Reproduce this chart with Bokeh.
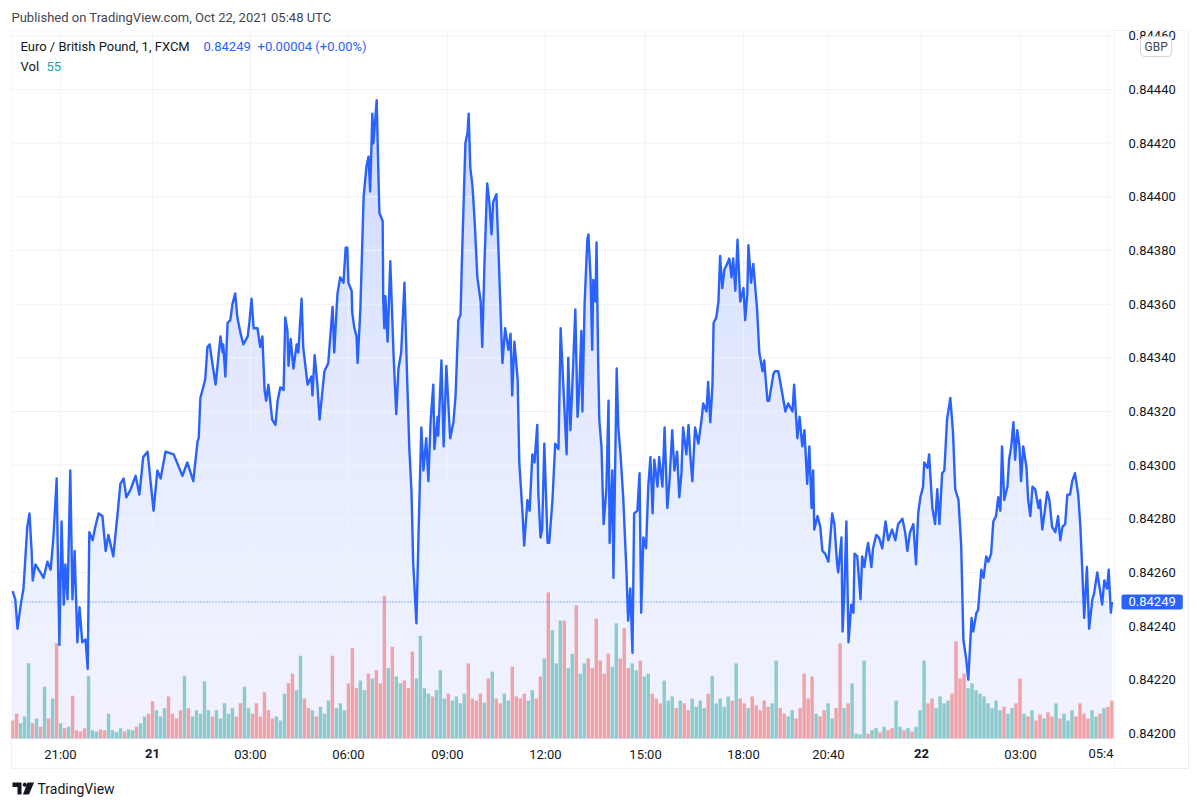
import numpy as np
from bokeh.plotting import figure
from bokeh.models import (Range1d, FixedTicker, PrintfTickFormatter, Label, LinearAxis,
                          BoxAnnotation, PolyAnnotation)
from bokeh.embed import file_html
from bokeh.resources import INLINE

# ---------------- data ----------------
# minute-bar index (0 = first bar shown) and close price
bar = [2,7,11,17,22,29,33,37,39,44,
       53,59,66,72,77,83,85,88,92,96,
       99,103,108,112,116,121,125,130,136,140,
       143,149,154,160,167,173,178,187,195,200,
       206,211,219,228,235,242,250,261,268,274,
       283,298,314,323,334,342,344,347,351,356,
       360,364,369,375,378,384,388,389,393,397,
       402,406,411,415,421,426,434,437,441,445,
       452,457,461,465,468,472,479,485,489,494,
       500,503,507,509,513,518,524,527,533,536,
       544,551,553,557,562,566,571,575,582,590,
       593,599,604,610,614,617,619,625,626,630,
       634,636,641,647,652,656,659,663,665,671,
       674,676,682,683,685,687,691,696,702,707,
       711,716,722,727,731,735,738,744,748,753,
       757,762,766,770,775,777,783,784,790,794,
       799,806,812,816,821,825,828,834,838,840,
       843,847,851,856,862,865,869,874,878,882,
       885,891,895,898,902,907,913,917,920,924,
       930,933,939,942,948,952,957,961,966,968,
       972,975,979,985,988,994,999,1005,1009,1012,
       1020,1023,1027,1031,1036,1040,1043,1047,1049,1053,
       1058,1060,1064,1067,1069,1073,1075,1078,1080,1084,
       1088,1093,1097,1099,1104,1106,1112,1115,1119,1124,
       1130,1133,1137,1141,1144,1150,1154,1157,1161,1166,
       1170,1174,1178,1181,1187,1190,1196,1200,1205,1209,
       1214,1218,1223,1227,1231,1234,1240,1244,1247,1251,
       1256,1262,1268,1271,1277,1280,1284,1288,1290,1295,
       1299,1302,1306,1310,1315,1319,1323,1326,1330,1334,
       1339,1345,1348,1352,1354,1359,1363,1370,1374,1380,
       1383,1389,1392,1400,1403,1409,1416,1422,1427,1435,
       1438,1444,1448,1453,1457,1462,1466,1470,1473,1475,
       1481,1486,1490,1495,1501,1508,1512,1517,1519,1525,
       1527,1530,1534,1538,1543,1547,1549,1554,1560,1563,
       1567,1572,1574,1580,1583,1589,1594,1600,1606,1611,
       1618,1624,1629,1637,1642,1646,1651,1657,1662,1666,
       1670,1675,1677,1683,1686,1692,1697,1701,1705,1710,
       1714,1719,1725,1730,1734,1740,1745,1749,1754,1758,
       1764,1767,1773,1776,1782,1786,1791,1795,1800,1804,
       1809,1813,1817,1820,1824,1830,1833,1837,1841,1844,
       1848,1852,1855,1859,1865,1868,1872,1876,1881,1887,
       1890,1894,1898,1903,1907,1912,1918,1923,1927,1931,
       1936,1940,1945,1949,1954,1960,1964,1967,1971,1976,
       1980,1986,1989,1995,1998,2004,2008,2013,2016,2020,2022]

close = [0.84253,0.84250,0.84239,0.84248,0.84254,0.84277,0.84282,0.84268,0.84257,0.84263,
         0.84260,0.84258,0.84264,0.84261,0.84273,0.84295,0.84269,0.84233,0.84279,0.84248,
         0.84263,0.84250,0.84298,0.84250,0.84268,0.84234,0.84247,0.84234,0.84235,0.84224,
         0.84275,0.84272,0.84277,0.84282,0.84281,0.84268,0.84274,0.84266,0.84282,0.84293,
         0.84295,0.84288,0.84291,0.84296,0.84289,0.84303,0.84305,0.84283,0.84298,0.84295,
         0.84305,0.84304,0.84296,0.84301,0.84294,0.84309,0.84310,0.84325,0.84328,0.84332,
         0.84344,0.84345,0.84338,0.84330,0.84336,0.84348,0.84342,0.84345,0.84333,0.84353,
         0.84354,0.84360,0.84364,0.84355,0.84349,0.84345,0.84348,0.84353,0.84362,0.84351,
         0.84351,0.84344,0.84348,0.84328,0.84324,0.84330,0.84317,0.84315,0.84324,0.84329,
         0.84328,0.84355,0.84350,0.84337,0.84347,0.84336,0.84345,0.84342,0.84362,0.84344,
         0.84330,0.84333,0.84326,0.84341,0.84330,0.84317,0.84327,0.84335,0.84338,0.84359,
         0.84342,0.84364,0.84370,0.84368,0.84381,0.84381,0.84368,0.84365,0.84357,0.84351,
         0.84348,0.84338,0.84358,0.84400,0.84411,0.84415,0.84402,0.84431,0.84420,0.84436,
         0.84410,0.84394,0.84391,0.84362,0.84351,0.84363,0.84346,0.84376,0.84341,0.84319,
         0.84336,0.84342,0.84368,0.84332,0.84306,0.84290,0.84264,0.84241,0.84275,0.84314,
         0.84298,0.84310,0.84294,0.84316,0.84330,0.84306,0.84318,0.84311,0.84339,0.84307,
         0.84337,0.84310,0.84316,0.84326,0.84354,0.84356,0.84379,0.84420,0.84424,0.84431,
         0.84411,0.84404,0.84391,0.84370,0.84361,0.84344,0.84375,0.84405,0.84398,0.84386,
         0.84398,0.84401,0.84379,0.84361,0.84338,0.84351,0.84343,0.84349,0.84326,0.84346,
         0.84332,0.84301,0.84282,0.84270,0.84287,0.84283,0.84304,0.84301,0.84315,0.84290,
         0.84273,0.84276,0.84308,0.84271,0.84271,0.84287,0.84308,0.84306,0.84351,0.84338,
         0.84304,0.84340,0.84313,0.84332,0.84358,0.84318,0.84327,0.84350,0.84320,0.84360,
         0.84384,0.84386,0.84370,0.84343,0.84369,0.84361,0.84383,0.84338,0.84317,0.84307,
         0.84278,0.84291,0.84324,0.84271,0.84298,0.84258,0.84336,0.84314,0.84304,0.84288,
         0.84260,0.84242,0.84254,0.84230,0.84282,0.84283,0.84297,0.84245,0.84273,0.84269,
         0.84292,0.84303,0.84282,0.84302,0.84292,0.84303,0.84292,0.84314,0.84284,0.84294,
         0.84313,0.84298,0.84305,0.84288,0.84297,0.84314,0.84304,0.84315,0.84304,0.84294,
         0.84314,0.84308,0.84317,0.84323,0.84320,0.84331,0.84316,0.84330,0.84353,0.84355,
         0.84361,0.84378,0.84366,0.84373,0.84375,0.84377,0.84370,0.84377,0.84365,0.84384,
         0.84361,0.84366,0.84354,0.84364,0.84382,0.84368,0.84375,0.84358,0.84342,0.84335,
         0.84339,0.84324,0.84324,0.84334,0.84335,0.84335,0.84327,0.84320,0.84323,0.84320,
         0.84330,0.84310,0.84318,0.84307,0.84313,0.84293,0.84307,0.84284,0.84298,0.84276,
         0.84281,0.84277,0.84268,0.84267,0.84264,0.84282,0.84278,0.84263,0.84260,0.84273,
         0.84238,0.84251,0.84279,0.84234,0.84248,0.84245,0.84267,0.84266,0.84250,0.84266,
         0.84262,0.84269,0.84271,0.84262,0.84269,0.84274,0.84273,0.84269,0.84279,0.84272,
         0.84276,0.84272,0.84278,0.84280,0.84275,0.84268,0.84275,0.84278,0.84263,0.84282,
         0.84288,0.84292,0.84301,0.84299,0.84304,0.84284,0.84278,0.84291,0.84278,0.84297,
         0.84298,0.84317,0.84325,0.84312,0.84291,0.84287,0.84270,0.84235,0.84228,0.84220,
         0.84243,0.84238,0.84245,0.84246,0.84261,0.84258,0.84266,0.84264,0.84267,0.84279,
         0.84281,0.84288,0.84283,0.84307,0.84287,0.84292,0.84302,0.84307,0.84316,0.84302,
         0.84313,0.84307,0.84294,0.84307,0.84299,0.84287,0.84281,0.84292,0.84291,0.84284,
         0.84287,0.84276,0.84282,0.84290,0.84287,0.84277,0.84275,0.84281,0.84272,0.84277,
         0.84278,0.84289,0.84289,0.84294,0.84297,0.84289,0.84277,0.84263,0.84243,0.84262,
         0.84239,0.84250,0.84252,0.84260,0.84256,0.84248,0.84257,0.84254,0.84261,0.84245,0.84249]

# volume, one value per ~7-minute slice of the chart (read as bar heights)
volume = [26,36,22,32,109,22,29,17,75,29,58,138,22,15,17,62,12,10,15,91,12,10,13,12,36,12,9,15,10,13,12,17,22,
          32,36,54,41,32,44,61,36,29,41,
          91,44,32,41,36,83,41,
          32,41,29,51,36,44,32,51,75,44,36,51,32,67,41,29,32,26,
          65,80,94,70,120,58,
          44,41,32,46,36,55,120,44,51,41,
          80,131,73,84,70,
          94,87,99,80,207,102,133,90,80,84,73,126,87,149,
          73,65,61,70,99,58,65,55,
          61,51,65,109,58,55,65,52,87,97,58,51,65,55,104,61,58,65,55,70,58,
          90,116,212,157,109,171,
          171,102,123,193,94,
          109,116,102,174,113,94,123,104,167,116,160,102,109,99,113,90,94,
          65,58,51,84,55,61,44,55,51,41,58,46,55,44,65,91,51,58,46,61,55,109,
          58,51,44,61,48,41,55,46,51,113,
          44,36,32,41,29,44,94,58,90,36,32,41,51,29,44,
          138,44,51,80,
          7,6,113,7,
          12,15,9,17,12,15,55,17,12,15,10,17,
          41,113,51,58,44,61,51,55,65,
          141,87,94,73,80,70,65,61,
          51,44,55,41,46,36,44,51,87,
          36,32,41,26,35,29,38,32,51,29,36,26,41,32,51,36,29,41,32,36,44,46,55]

price_ticks = [0.84200, 0.84220, 0.84240, 0.84260, 0.84280, 0.84300, 0.84320,
               0.84340, 0.84360, 0.84380, 0.84400, 0.84420, 0.84440, 0.84460]
time_tick_bars = [90, 259, 439, 619, 801, 981, 1165, 1345, 1501, 1672, 1854, 2014]
time_tick_labels = ["21:00", "21", "03:00", "06:00", "09:00", "12:00",
                    "15:00", "18:00", "20:40", "22", "03:00", "05:4"]
day_labels = ["21", "22"]

header = "Published on TradingView.com, Oct 22, 2021 05:48 UTC"
symbol = "Euro / British Pound, 1, FXCM"
last_price = 0.84249
change_text = "+0.00004 (+0.00%)"
last_volume = 55
currency = "GBP"
brand = "TradingView"

# ---------------- layout & style ----------------
BLUE = "#2962ff"
TEXT = "#131722"
GREY_TEXT = "#434651"
GRID = "#f0f3fa"
BORDER = "#e0e3eb"
UP = "#26a69a"
DOWN = "#ef5350"
FONT = "Roboto"

W, H = 1192, 800
PANE_L, PANE_R, PANE_T, PANE_B = 11, 1112, 30, 738     # price pane, page pixels
SCALE_R, AXIS_B = 1188, 768                              # outer edges of the chart box
T0, T1 = 0.0, 2023.0                                     # bar span of the pane
Y0, Y1 = 0.841981, 0.844620                              # price span of the pane
VOL_TOP = 1027.0                                         # volume at the pane top

kx = (T1 - T0) / (PANE_R - PANE_L)
ky = (Y1 - Y0) / (PANE_B - PANE_T)
kv = VOL_TOP / (PANE_B - PANE_T)

p = figure(width=W, height=H, output_backend="svg", toolbar_location=None,
           x_range=Range1d(T0 - PANE_L * kx, T1 + (W - PANE_R) * kx),
           y_range=Range1d(Y0 - (H - PANE_B) * ky, Y1 + PANE_T * ky),
           x_axis_location=None, y_axis_location=None,
           min_border=0, min_border_left=0, min_border_right=0,
           min_border_top=0, min_border_bottom=0,
           background_fill_color="white", border_fill_color="white",
           outline_line_color=None)
p.xgrid.visible = False
p.ygrid.visible = False
p.extra_y_ranges = {"vol": Range1d(-(H - PANE_B) * kv, VOL_TOP + PANE_T * kv)}

t = np.array(bar, dtype=float)
c = np.array(close, dtype=float)

# area fill with a vertical fade (white veils stacked towards the bottom)
p.varea(x=t, y1=np.full_like(c, Y0), y2=c, fill_color=BLUE, fill_alpha=0.32)
levels = np.linspace(Y0, Y1, 31)[1:]
p.quad(left=T0, right=T1, bottom=Y0, top=levels, fill_color="white",
       fill_alpha=0.068, line_color=None)

# grid
p.segment(x0=time_tick_bars, x1=time_tick_bars, y0=Y0, y1=Y1, line_color=GRID, line_width=1)
p.segment(x0=T0, x1=T1, y0=price_ticks, y1=price_ticks, line_color=GRID, line_width=1)

# volume
vt = np.linspace(t[0], t[-1], len(volume))
step = vt[1] - vt[0]
pa = np.interp(vt - step / 2, t, c)
pb = np.interp(vt + step / 2, t, c)
vcolors = [UP if b >= a else DOWN for a, b in zip(pa, pb)]
p.vbar(x=vt, top=volume, bottom=0, width=step * 0.85, fill_color=vcolors,
       fill_alpha=0.5, line_color=None, y_range_name="vol")

# last price dotted line and price line
p.segment(x0=T0, x1=T1, y0=last_price, y1=last_price, line_color=BLUE,
          line_dash="1 2", line_width=1)
p.line(t, c, line_color=BLUE, line_width=2.4, line_join="round")

# axes (fixed at the pane edges)
ya = LinearAxis(ticker=FixedTicker(ticks=price_ticks),
                formatter=PrintfTickFormatter(format="%.5f"), fixed_location=T1)
ya.major_tick_line_color = None
ya.minor_tick_line_color = None
ya.major_tick_out = 0
ya.major_tick_in = 0
ya.axis_line_color = None
ya.major_label_standoff = 16
ya.major_label_text_font = FONT
ya.major_label_text_font_size = "13px"
ya.major_label_text_color = TEXT
p.add_layout(ya, "right")

overrides = {}
for tb, lab in zip(time_tick_bars, time_tick_labels):
    overrides[tb] = "" if (lab in day_labels or tb == time_tick_bars[-1]) else lab
xa = LinearAxis(ticker=FixedTicker(ticks=time_tick_bars), fixed_location=Y0,
                major_label_overrides=overrides)
xa.major_tick_line_color = None
xa.minor_tick_line_color = None
xa.major_tick_out = 0
xa.major_tick_in = 0
xa.axis_line_color = None
xa.major_label_standoff = 8
xa.major_label_text_font = FONT
xa.major_label_text_font_size = "13px"
xa.major_label_text_color = TEXT
p.add_layout(xa, "below")

def sy(page_y):
    return H - page_y

# bold day labels and the clipped last time label
for tb, lab in zip(time_tick_bars, time_tick_labels):
    if lab in day_labels:
        p.add_layout(Label(x=tb, y=sy(753), x_units="data", y_units="screen", text=lab,
                           text_font=FONT, text_font_size="13px", text_font_style="bold",
                           text_color=TEXT, text_align="center", text_baseline="middle"))
p.add_layout(Label(x=PANE_R + 1, y=sy(753), x_units="screen", y_units="screen",
                   text=time_tick_labels[-1], text_font=FONT, text_font_size="13px",
                   text_color=TEXT, text_align="right", text_baseline="middle"))

def add_text(txt, x, y, color=TEXT, size="13px", style="normal", align="left"):
    p.add_layout(Label(x=x, y=sy(y), x_units="screen", y_units="screen", text=txt,
                       text_font=FONT, text_font_size=size, text_font_style=style,
                       text_color=color, text_align=align, text_baseline="middle"))

add_text(header, 11, 17, color=GREY_TEXT)
add_text(symbol, 20, 46)
add_text(f"{last_price:.5f}", 203, 46, color=BLUE)
add_text(change_text, 257, 46, color=BLUE)
add_text("Vol", 20, 66)
add_text(str(last_volume), 46, 66, color=UP)
add_text(brand, 37, 788, size="14px")

# chart box borders
box = dict(left_units="screen", right_units="screen", bottom_units="screen",
           top_units="screen", fill_color=None, line_color=BORDER, line_width=1)
p.add_layout(BoxAnnotation(left=PANE_L, right=SCALE_R, bottom=sy(AXIS_B), top=sy(PANE_T), **box))
p.add_layout(BoxAnnotation(left=PANE_L, right=SCALE_R, bottom=sy(AXIS_B), top=sy(PANE_B), **box))
p.add_layout(BoxAnnotation(left=PANE_R + 2, right=SCALE_R, bottom=sy(AXIS_B), top=sy(PANE_T), **box))

# last price badge on the price scale
p.add_layout(Label(x=1121, y=last_price, x_units="screen", y_units="data",
                   text=f"{last_price:.5f}", text_font=FONT, text_font_size="13px",
                   text_color="white", background_fill_color=BLUE, text_baseline="middle",
                   padding=(7, 3), border_radius=2))
# currency badge
p.add_layout(Label(x=1140, y=sy(46), x_units="screen", y_units="screen",
                   text=currency, text_font=FONT, text_font_size="12px",
                   text_color=GREY_TEXT, background_fill_color="white",
                   border_line_color="#d1d4dc", text_baseline="middle",
                   padding=(4, 3), border_radius=4))

# logo mark
mark = dict(xs_units="screen", ys_units="screen", fill_color=TEXT, fill_alpha=1, line_color=None)
p.add_layout(PolyAnnotation(xs=[12, 21, 21, 17, 17, 12],
                            ys=[sy(782), sy(782), sy(794), sy(794), sy(786.5), sy(786.5)], **mark))
ang = np.linspace(0, 2 * np.pi, 13)[:-1]
p.add_layout(PolyAnnotation(xs=list(24.3 + 2.1 * np.cos(ang)), ys=list(sy(784.2) + 2.1 * np.sin(ang)), **mark))
p.add_layout(PolyAnnotation(xs=[27, 33.5, 28.5, 22.5],
                            ys=[sy(782), sy(782), sy(794), sy(794)], **mark))

open("out.html", "w").write(file_html(p, INLINE))
